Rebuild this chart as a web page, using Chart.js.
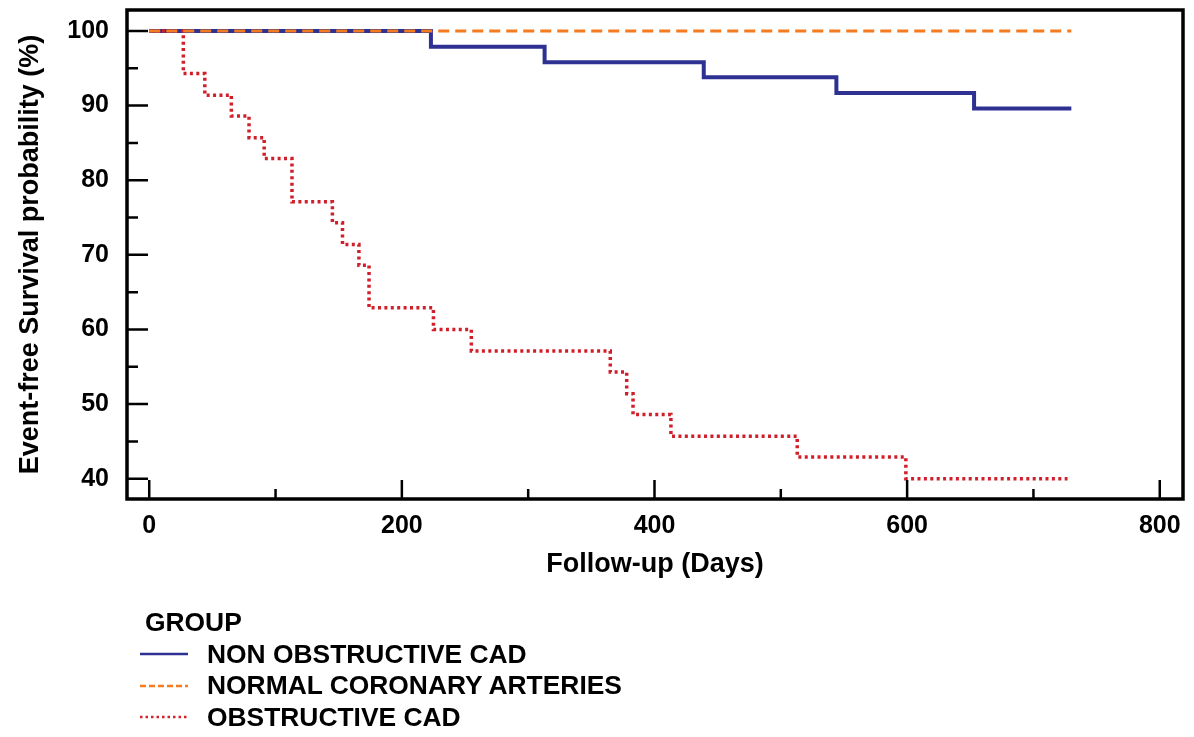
<!DOCTYPE html>
<html>
<head>
<meta charset="utf-8">
<title>Event-free survival</title>
<script src="https://cdn.jsdelivr.net/npm/chart.js@4.4.1/dist/chart.umd.min.js"></script>
<style>
  html, body { margin: 0; padding: 0; background: #fff; }
  #wrap { position: relative; width: 1194px; height: 737px; }
  #kmChart { position: absolute; left: 0; top: 0; }
  #legend {
    position: absolute; left: 140px; top: 607px;
    font: bold 26.4px "Liberation Sans", Arial, sans-serif;
    line-height: 31.5px; color: #000;
  }
  #legend .head { padding-left: 5px; }
  #legend .row { display: flex; align-items: center; }
  #legend svg { width: 48px; height: 10px; margin-right: 19px; }
</style>
</head>
<body>
<div id="wrap">
  <canvas id="kmChart" width="1194" height="737"></canvas>
  <div id="legend">
    <div class="head">GROUP</div>
    <div class="row"><svg viewBox="0 0 48 10"><line x1="0" y1="5" x2="48" y2="5" stroke="#2e3192" stroke-width="2.5"/></svg>NON OBSTRUCTIVE CAD</div>
    <div class="row"><svg viewBox="0 0 48 10"><line x1="0" y1="5" x2="48" y2="5" stroke="#f47b20" stroke-width="2.5" stroke-dasharray="6 3"/></svg>NORMAL CORONARY ARTERIES</div>
    <div class="row"><svg viewBox="0 0 48 10"><line x1="0" y1="5" x2="48" y2="5" stroke="#d2232a" stroke-width="2.5" stroke-dasharray="2.5 3"/></svg>OBSTRUCTIVE CAD</div>
  </div>
</div>
<script>
// axis ticks
const xTicks = [0, 200, 400, 600, 800];
const xMinorTicks = [100, 300, 500, 700];
const yTicks = [40, 50, 60, 70, 80, 90, 100];
const yMinorTicks = [45, 55, 65, 75, 85, 95];

// Kaplan-Meier steps: day of each drop and survival (%) after it
const nonObstructiveDays = [0, 223, 313, 439, 544, 653, 730];
const nonObstructiveSurv = [100, 97.9, 95.8, 93.8, 91.7, 89.6, 89.6];

const normalDays = [0, 730];
const normalSurv = [100, 100];

const obstructiveDays = [0, 27, 44, 65, 79, 91, 113, 145, 153, 166, 174, 225, 255, 365, 378, 383, 413, 513, 599, 727];
const obstructiveSurv = [100, 94.3, 91.4, 88.6, 85.7, 82.9, 77.1, 74.3, 71.4, 68.6, 62.9, 60.0, 57.1, 54.3, 51.4, 48.6, 45.7, 42.9, 40.0, 40.0];

const toPoints = (days, surv) => days.map((d, i) => ({ x: d, y: surv[i] }));

const tickFont = { family: "Liberation Sans", size: 25, weight: "bold" };
const titleFont = { family: "Liberation Sans", size: 27, weight: "bold" };

// no extra room for edge labels, the plot box is fixed
const noEdgePadding = (s) => {
  s.paddingTop = 0;
  s.paddingBottom = 0;
  s.paddingLeft = 0;
  s.paddingRight = 0;
};

// inward tick marks + box frame
const axisFrame = {
  id: "axisFrame",
  afterDraw(chart) {
    const { ctx, chartArea: a, scales: { x, y } } = chart;
    ctx.save();
    ctx.strokeStyle = "#000";
    ctx.lineWidth = 2.5;
    ctx.beginPath();
    xTicks.forEach((v) => {
      const px = x.getPixelForValue(v);
      ctx.moveTo(px, a.bottom);
      ctx.lineTo(px, a.bottom - 19);
    });
    xMinorTicks.forEach((v) => {
      const px = x.getPixelForValue(v);
      ctx.moveTo(px, a.bottom);
      ctx.lineTo(px, a.bottom - 10);
    });
    yTicks.forEach((v) => {
      const py = y.getPixelForValue(v);
      ctx.moveTo(a.left, py);
      ctx.lineTo(a.left + 21, py);
    });
    yMinorTicks.forEach((v) => {
      const py = y.getPixelForValue(v);
      ctx.moveTo(a.left, py);
      ctx.lineTo(a.left + 11, py);
    });
    ctx.stroke();
    ctx.lineWidth = 3.5;
    ctx.strokeRect(a.left, a.top, a.right - a.left, a.bottom - a.top);
    ctx.restore();
  },
};

const ctx = document.getElementById("kmChart").getContext("2d");
new Chart(ctx, {
  type: "line",
  data: {
    datasets: [
      {
        label: "NORMAL CORONARY ARTERIES",
        data: toPoints(normalDays, normalSurv),
        borderColor: "#f47b20",
        borderWidth: 3,
        borderDash: [11, 6],
        stepped: "before",
        pointRadius: 0,
        fill: false,
      },
      {
        label: "OBSTRUCTIVE CAD",
        data: toPoints(obstructiveDays, obstructiveSurv),
        borderColor: "#d01f2a",
        borderWidth: 3.5,
        borderDash: [3, 3.4],
        stepped: "before",
        pointRadius: 0,
        fill: false,
      },
      {
        label: "NON OBSTRUCTIVE CAD",
        data: toPoints(nonObstructiveDays, nonObstructiveSurv),
        borderColor: "#2e3192",
        borderWidth: 4,
        stepped: "before",
        pointRadius: 0,
        fill: false,
      },
    ],
  },
  options: {
    responsive: false,
    animation: false,
    layout: { padding: { left: 0, top: 10, right: 11, bottom: 152 } },
    plugins: {
      legend: { display: false },
      tooltip: { enabled: false },
    },
    scales: {
      x: {
        type: "linear",
        min: -17.6,
        max: 818.4,
        grid: { display: false },
        border: { display: false },
        afterBuildTicks: (s) => { s.ticks = xTicks.map((v) => ({ value: v })); },
        afterFit: (s) => { s.height = 86; noEdgePadding(s); },
        ticks: { font: tickFont, color: "#000", padding: 4, maxRotation: 0 },
        title: {
          display: true,
          text: "Follow-up (Days)",
          font: titleFont,
          color: "#000",
          padding: { top: 0, bottom: 4 },
        },
      },
      y: {
        type: "linear",
        min: 37.28,
        max: 102.81,
        grid: { display: false },
        border: { display: false },
        afterBuildTicks: (s) => { s.ticks = yTicks.map((v) => ({ value: v })); },
        afterFit: (s) => { s.width = 127; noEdgePadding(s); },
        ticks: { font: tickFont, color: "#000", padding: 10 },
        title: {
          display: true,
          text: "Event-free Survival probability (%)",
          font: titleFont,
          color: "#000",
          padding: { top: 14, bottom: 0 },
        },
      },
    },
  },
  plugins: [axisFrame],
});
</script>
</body>
</html>
